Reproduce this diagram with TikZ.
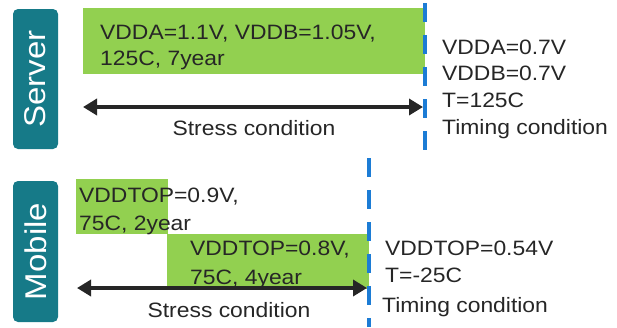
\documentclass[tikz,border=0pt]{standalone}
\usepackage{fontspec}
\setmainfont{Liberation Sans}[FakeStretch=1.1]
\usetikzlibrary{arrows.meta,positioning}
\definecolor{tealbox}{HTML}{167A88}
\definecolor{limefill}{HTML}{92D050}
\definecolor{dashblue}{HTML}{1C7CD5}
\definecolor{inkgray}{HTML}{262626}
\begin{document}
\begin{tikzpicture}[x=1pt,y=-1pt,font=\fontsize{20.8}{26.7}\selectfont,text=inkgray,platform/.style={fill=tealbox,rounded corners=5pt,rotate=90,text=white,font=\fontsize{30}{36}\selectfont,minimum width=140pt,minimum height=45pt,inner sep=0pt},stressbox/.style={fill=limefill,anchor=north west,inner sep=0pt},label/.style={align=left,inner sep=0pt},arr/.style={{Triangle[length=14pt,width=16pt]}-{Triangle[length=14pt,width=16pt]},line width=3.6pt,draw=inkgray},limit/.style={dashblue,line width=4pt,dash pattern=on 19pt off 13pt}]
\useasboundingbox (0,0) rectangle (617,327);
% server
\node[platform] (server) at (35.5,79){Server};
\node[stressbox,minimum width=342pt,minimum height=66pt] (srvfill) at (83,8){};
\node[label,anchor=base west,font=\fontsize{20.8}{26}\selectfont] (srvstress) at (100,65.2){VDDA=1.1V, VDDB=1.05V,\\125C, 7year};
\node[label,anchor=base west] (srvtiming) at (442,134.2){VDDA=0.7V\\VDDB=0.7V\\T=125C\\Timing condition};
\node[label] (srvcap) at (254,128){Stress condition};
\coordinate (srvL) at (83,107);\coordinate (srvR) at (423,107);
\coordinate (srvtop) at (425,3);\coordinate (srvbot) at (425,150);
\draw[limit] (srvtop) -- (srvbot);\draw[arr] (srvL) -- (srvR);
% mobile
\node[platform,minimum width=141pt] (mobile) at (35.5,251.5){Mobile};
\node[stressbox,minimum width=92pt,minimum height=55pt] (mobfillA) at (76,179){};
\node[stressbox,minimum width=202pt,minimum height=55pt] (mobfillB) at (167,234){};
\node[label,anchor=base west,font=\fontsize{20.8}{28}\selectfont] (mobstressA) at (79,230.2){VDDTOP=0.9V,\\75C, 2year};
\node[label,anchor=base west,font=\fontsize{20.8}{29}\selectfont] (mobstressB) at (190,284.2){VDDTOP=0.8V,\\75C, 4year};
\node[label,anchor=base west,font=\fontsize{20.8}{27}\selectfont] (mobtiming) at (385,282.2){VDDTOP=0.54V\\T=-25C};
\node[label,anchor=west] (mobtimecap) at (382,307){Timing condition};
\node[label] (mobcap) at (229,310){Stress condition};
\coordinate (mobL) at (77,288);\coordinate (mobR) at (367,288);
\coordinate (mobtop) at (369,158);\coordinate (mobbot) at (369,327);
\draw[limit] (mobtop) -- (mobbot);\draw[arr] (mobL) -- (mobR);
\end{tikzpicture}
\end{document}
